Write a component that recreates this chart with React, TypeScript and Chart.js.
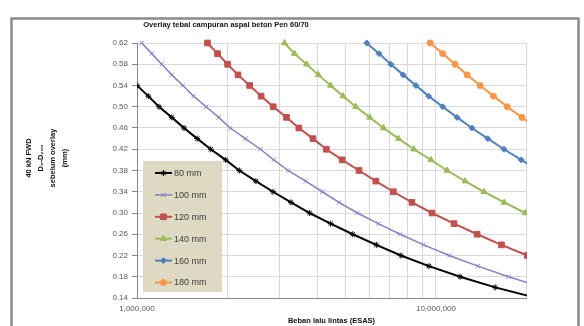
import React, { useEffect, useRef } from 'react';
import { Chart, registerables } from 'chart.js';
import * as helpers from 'chart.js/helpers';

Chart.register(...registerables);

// ---------- data ----------
const chartTitle = 'Overlay tebal campuran aspal beton Pen 60/70';
const xTitle = 'Beban lalu lintas (ESAS)';
const yTitleLines = ['40 kN FWD', 'D\u2080-D\u2082\u2080\u2080', 'sebelum overlay', '(mm)'];

const seriesLabels = ['80 mm', '100 mm', '120 mm', '140 mm', '160 mm', '180 mm'];

const esas80 = [930000, 1000000, 1091000, 1185000, 1307000, 1436000, 1590000, 1765000, 1979000, 2199000, 2498000, 2849000, 3274000, 3778000, 4443000, 5266000, 6315000, 7630000, 9474000, 12040000, 15780000, 21800000];
const defl80 = [0.56, 0.54, 0.52, 0.50, 0.48, 0.46, 0.44, 0.42, 0.40, 0.38, 0.36, 0.34, 0.32, 0.30, 0.28, 0.26, 0.24, 0.22, 0.20, 0.18, 0.16, 0.14];

const esas100 = [1037000, 1120000, 1210000, 1307000, 1423000, 1545000, 1704000, 1875000, 2051000, 2304000, 2587000, 2867000, 3199000, 3664000, 4168000, 4737000, 5461000, 6412000, 7590000, 9093000, 11080000, 13800000, 17480000, 22700000];
const defl100 = [0.62, 0.60, 0.58, 0.56, 0.54, 0.52, 0.50, 0.48, 0.46, 0.44, 0.42, 0.40, 0.38, 0.36, 0.34, 0.32, 0.30, 0.28, 0.26, 0.24, 0.22, 0.20, 0.18, 0.16];

const esas120 = [1721000, 1860000, 2009000, 2177000, 2381000, 2601000, 2854000, 3162000, 3478000, 3876000, 4298000, 4856000, 5528000, 6291000, 7202000, 8308000, 9696000, 11490000, 13730000, 16560000, 20200000];
const defl120 = [0.62, 0.60, 0.58, 0.56, 0.54, 0.52, 0.50, 0.48, 0.46, 0.44, 0.42, 0.40, 0.38, 0.36, 0.34, 0.32, 0.30, 0.28, 0.26, 0.24, 0.22];

const esas140 = [3114000, 3364000, 3690000, 4041000, 4443000, 4887000, 5390000, 6004000, 6677000, 7496000, 8437000, 9621000, 10890000, 12510000, 14460000, 16920000, 19900000, 23600000];
const defl140 = [0.62, 0.60, 0.58, 0.56, 0.54, 0.52, 0.50, 0.48, 0.46, 0.44, 0.42, 0.40, 0.38, 0.36, 0.34, 0.32, 0.30, 0.28];

const esas160 = [5867000, 6453000, 7063000, 7768000, 8568000, 9452000, 10530000, 11760000, 13180000, 14910000, 16880000, 19280000, 22000000];
const defl160 = [0.62, 0.60, 0.58, 0.56, 0.54, 0.52, 0.50, 0.48, 0.46, 0.44, 0.42, 0.40, 0.38];

const esas180 = [9570000, 10530000, 11580000, 12710000, 14050000, 15570000, 17310000, 19390000, 21600000];
const defl180 = [0.62, 0.60, 0.58, 0.56, 0.54, 0.52, 0.50, 0.48, 0.46];

const yTickValues = [0.14, 0.18, 0.22, 0.26, 0.30, 0.34, 0.38, 0.42, 0.46, 0.50, 0.54, 0.58, 0.62];
const xGridValues = [1000000, 2000000, 3000000, 4000000, 5000000, 6000000, 7000000, 8000000, 9000000, 10000000, 20000000];
const xLabelValues = [1000000, 10000000];

// ---------- styles ----------
const FONT = "'Liberation Sans', Arial, sans-serif";
const styles = [
  { color: '#000000', pointStyle: 'star', radius: 3, width: 2 },
  { color: '#8B7EC4', pointStyle: 'crossRot', radius: 3, width: 1.5 },
  { color: '#C0504D', pointStyle: 'rect', radius: 4, width: 2 },
  { color: '#9BBB59', pointStyle: 'triangle', radius: 3.5, width: 2 },
  { color: '#4F81BD', pointStyle: 'rectRot', radius: 3, width: 2 },
  { color: '#F79646', pointStyle: 'circle', radius: 3, width: 2 },
];

const xs = [esas80, esas100, esas120, esas140, esas160, esas180];
const ys = [defl80, defl100, defl120, defl140, defl160, defl180];

function fmtThousands(v: number): string {
  const s = String(Math.round(v));
  return s.replace(/\B(?=(\d{3})+(?!\d))/g, ',');
}

const decor = {
  id: 'decor',
  beforeDraw(chart: any) {
    const ctx = chart.ctx;
    ctx.save();
    ctx.fillStyle = '#ffffff';
    ctx.fillRect(0, 0, chart.width, chart.height);
    ctx.strokeStyle = '#8a8a8a';
    ctx.lineWidth = 2.5;
    ctx.strokeRect(11.5, 18.5, 567, 320);
    ctx.restore();
  },
  afterDraw(chart: any) {
    const ctx = chart.ctx;
    const a = chart.chartArea;
    ctx.save();
    // title
    ctx.fillStyle = '#111';
    ctx.font = `bold 7.5px ${FONT}`;
    ctx.textAlign = 'center';
    ctx.textBaseline = 'middle';
    ctx.fillText(chartTitle, 226, 25);
    // x title
    ctx.fillText(xTitle, (a.left + a.right) / 2, 321);
    // y title
    const lineXs = [29, 41, 53, 65];
    yTitleLines.forEach((t, i) => {
      ctx.save();
      ctx.translate(lineXs[i], 158);
      ctx.rotate(-Math.PI / 2);
      ctx.fillText(t, 0, 0);
      ctx.restore();
    });
    // legend
    const lx = a.left + 6;
    const ly = a.top + 118;
    ctx.fillStyle = '#DDD9C3';
    ctx.fillRect(lx, ly, 79, 131);
    seriesLabels.forEach((lab, i) => {
      const st = styles[i];
      const cy = ly + 12 + i * 21.9;
      ctx.strokeStyle = st.color;
      ctx.lineWidth = st.width;
      ctx.beginPath();
      ctx.moveTo(lx + 12, cy);
      ctx.lineTo(lx + 29, cy);
      ctx.stroke();
      ctx.fillStyle = st.color;
      ctx.lineWidth = 1;
      helpers.drawPoint(ctx, { pointStyle: st.pointStyle, radius: st.radius, rotation: 0, borderWidth: 1 } as any, lx + 20.5, cy);
      ctx.fillStyle = '#404040';
      ctx.font = `9px ${FONT}`;
      ctx.textAlign = 'left';
      ctx.textBaseline = 'middle';
      ctx.fillText(lab, lx + 31, cy + 0.5);
    });
    ctx.restore();
  },
};

export default function App() {
  const ref = useRef<HTMLCanvasElement>(null);
  useEffect(() => {
    const canvas = ref.current;
    if (!canvas) return;
    Chart.defaults.font.family = FONT;
    const datasets = seriesLabels.map((lab, i) => ({
      label: lab,
      data: xs[i].map((x, j) => ({ x, y: ys[i][j] })),
      borderColor: styles[i].color,
      backgroundColor: styles[i].color,
      borderWidth: styles[i].width,
      pointStyle: styles[i].pointStyle,
      pointRadius: styles[i].radius,
      pointBorderWidth: 1,
      pointBackgroundColor: styles[i].color,
      pointBorderColor: styles[i].color,
      tension: 0,
      fill: false,
      clip: { left: 0, top: 6, right: 1, bottom: 0 },
    }));
    const chart = new Chart(canvas, {
      type: 'line',
      data: { datasets } as any,
      plugins: [decor],
      options: {
        responsive: false,
        maintainAspectRatio: false,
        devicePixelRatio: 1,
        animation: false,
        layout: { padding: { left: 0, top: 43, right: 58, bottom: 0 } },
        plugins: {
          legend: { display: false },
          title: { display: false },
          tooltip: { enabled: false },
        },
        scales: {
          x: {
            type: 'logarithmic',
            min: 1000000,
            max: 20000000,
            afterBuildTicks: (s: any) => {
              s.ticks = xGridValues.map((v) => ({ value: v }));
            },
            afterFit: (s: any) => {
              s.height = 28;
            },
            grid: { color: '#d9d9d9', drawTicks: false, lineWidth: 1 },
            border: { color: '#868686', width: 1 },
            ticks: {
              autoSkip: false,
              maxRotation: 0,
              minRotation: 0,
              padding: 6,
              color: '#595959',
              font: { size: 8 },
              callback: (v: any) => (xLabelValues.includes(Number(v)) ? fmtThousands(Number(v)) : ''),
            },
          },
          y: {
            type: 'linear',
            min: 0.14,
            max: 0.62,
            afterBuildTicks: (s: any) => {
              s.ticks = yTickValues.map((v) => ({ value: v }));
            },
            afterFit: (s: any) => {
              s.width = 137;
            },
            grid: { color: '#d9d9d9', tickLength: 5, tickColor: '#868686' },
            border: { color: '#868686', width: 1 },
            ticks: {
              padding: 4,
              color: '#595959',
              font: { size: 8 },
              callback: (v: any) => Number(v).toFixed(2),
            },
          },
        },
      } as any,
    });
    return () => chart.destroy();
  }, []);
  return (
    <div style={{ position: 'fixed', left: 0, top: 0, width: 584, height: 326, background: '#fff' }}>
      <canvas ref={ref} width={584} height={326} style={{ display: 'block', width: 584, height: 326 }} />
    </div>
  );
}
